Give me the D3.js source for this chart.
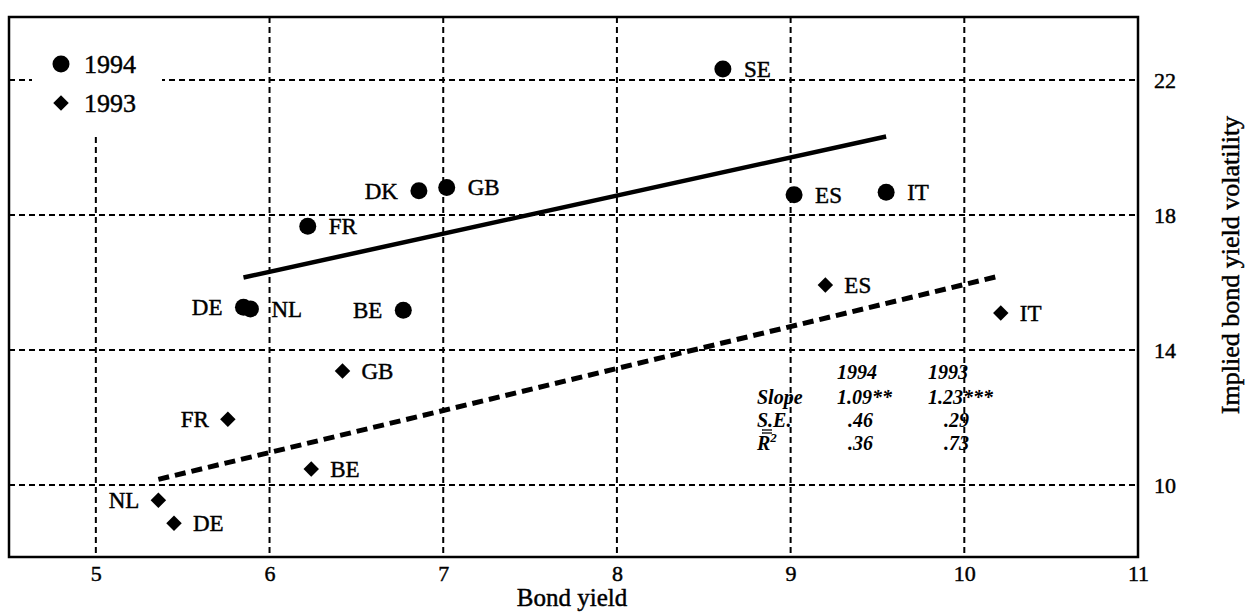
<!DOCTYPE html>
<html>
<head>
<meta charset="utf-8">
<script src="https://cdn.jsdelivr.net/npm/d3@7"></script>
<style>
  html, body { margin: 0; padding: 0; background: #fff; }
  svg text { font-family: "Liberation Serif", "Times New Roman", serif; fill: #000; }
</style>
</head>
<body>
<svg id="chart" width="1251" height="612"></svg>
<script>
// ---------------- data ----------------
const countries1994 = ["SE", "DK", "GB", "FR", "ES", "IT", "DE", "NL", "BE"];
const yield1994     = [8.61, 6.86, 7.02, 6.22, 9.02, 9.55, 5.85, 5.89, 6.77];
const vol1994       = [22.33, 18.72, 18.82, 17.67, 18.60, 18.68, 15.27, 15.22, 15.18];
const side1994      = ["right", "left", "right", "right", "right", "right", "left", "right", "left"];

const countries1993 = ["ES", "IT", "GB", "FR", "BE", "NL", "DE"];
const yield1993     = [9.20, 10.21, 6.42, 5.76, 6.24, 5.36, 5.45];
const vol1993       = [15.93, 15.10, 13.38, 11.95, 10.48, 9.55, 8.87];
const side1993      = ["right", "right", "right", "left", "right", "left", "right"];

const fit1994X = [5.85, 9.55];
const fit1994Y = [16.15, 20.33];
const fit1993X = [5.36, 10.19];
const fit1993Y = [10.17, 16.18];

const xTicks = [5, 6, 7, 8, 9, 10, 11];
const yTicks = [10, 14, 18, 22];
const xTitle = "Bond yield";
const yTitle = "Implied bond yield volatility";
const legendLabels = ["1994", "1993"];

const statHeaders = ["1994", "1993"];
const statRows = ["Slope", "S.E.", "R"];
const stat1994 = ["1.09**", ".46", ".36"];
const stat1993 = ["1.23***", ".29", ".73"];

// ---------------- layout ----------------
const svg = d3.select("#chart");
const L = 9, R = 1138, T = 17, B = 557;
const x = d3.scaleLinear().domain([4.5, 11]).range([L, R]);
const y = d3.scaleLinear().domain([7.87, 23.87]).range([B, T]);

svg.append("rect").attr("width", 1251).attr("height", 612).attr("fill", "#fff");

const grid = svg.append("g").attr("stroke", "#000").attr("stroke-width", 2)
  .attr("stroke-dasharray", "6,4").attr("fill", "none");
grid.selectAll("line.v").data(xTicks.filter(d => d < 11)).join("line")
  .attr("class", "v")
  .attr("x1", d => x(d)).attr("x2", d => x(d))
  .attr("y1", T).attr("y2", B);
grid.selectAll("line.h").data(yTicks).join("line")
  .attr("class", "h")
  .attr("x1", L).attr("x2", R)
  .attr("y1", d => y(d)).attr("y2", d => y(d));

// legend box (masks the grid)
svg.append("rect").attr("x", 32).attr("y", T + 1).attr("width", 130).attr("height", 119).attr("fill", "#fff");

// frame
svg.append("rect").attr("x", L).attr("y", T).attr("width", R - L).attr("height", B - T)
  .attr("fill", "none").attr("stroke", "#000").attr("stroke-width", 2.5);

const ink = sel => sel.attr("stroke", "#000").attr("stroke-width", 0.45);

// x-axis (labels only)
const xAxis = d3.axisBottom(x).tickValues(xTicks).tickSize(0).tickPadding(8).tickFormat(d3.format("d"));
const gx = svg.append("g").attr("transform", `translate(0,${B})`).call(xAxis);
gx.select(".domain").remove();
gx.selectAll("text").attr("font-size", 22).attr("font-family", "Liberation Serif").call(ink);

// right y-axis (labels only)
const yAxis = d3.axisRight(y).tickValues(yTicks).tickSize(0).tickPadding(16).tickFormat(d3.format("d"));
const gy = svg.append("g").attr("transform", `translate(${R},0)`).call(yAxis);
gy.select(".domain").remove();
gy.selectAll("text").attr("font-size", 22).attr("font-family", "Liberation Serif").call(ink);

svg.append("text").attr("x", 572).attr("y", 606)
  .attr("text-anchor", "middle").attr("font-size", 25).text(xTitle).call(ink);
svg.append("text").attr("transform", "translate(1239,265) rotate(-90)")
  .attr("text-anchor", "middle").attr("font-size", 26).text(yTitle).call(ink);

// regression lines
const line = d3.line().x(d => x(d[0])).y(d => y(d[1]));
svg.append("path").datum(d3.zip(fit1994X, fit1994Y)).attr("d", line)
  .attr("fill", "none").attr("stroke", "#000").attr("stroke-width", 4.5);
svg.append("path").datum(d3.zip(fit1993X, fit1993Y)).attr("d", line)
  .attr("fill", "none").attr("stroke", "#000").attr("stroke-width", 5)
  .attr("stroke-dasharray", "11,6");

// points
const pts94 = countries1994.map((c, i) => ({ c, x: yield1994[i], y: vol1994[i], side: side1994[i] }));
const pts93 = countries1993.map((c, i) => ({ c, x: yield1993[i], y: vol1993[i], side: side1993[i] }));

svg.append("g").selectAll("circle").data(pts94).join("circle")
  .attr("cx", d => x(d.x)).attr("cy", d => y(d.y)).attr("r", 8.5).attr("fill", "#000");
const diamondType = {
  draw(ctx, size) {
    const r = Math.sqrt(size) / 2;
    ctx.moveTo(0, -r); ctx.lineTo(r, 0); ctx.lineTo(0, r); ctx.lineTo(-r, 0); ctx.closePath();
  }
};
const diamond = d3.symbol().type(diamondType).size(240);
svg.append("g").selectAll("path").data(pts93).join("path")
  .attr("d", diamond).attr("transform", d => `translate(${x(d.x)},${y(d.y)})`).attr("fill", "#000");

function labels(data, off) {
  svg.append("g").selectAll("text").data(data).join("text")
    .attr("x", d => x(d.x) + (d.side === "right" ? off : -off))
    .attr("y", d => y(d.y) + 8)
    .attr("text-anchor", d => d.side === "right" ? "start" : "end")
    .attr("font-size", 23)
    .text(d => d.c)
    .call(ink);
}
labels(pts94, 21);
labels(pts93, 19);

// legend
svg.append("circle").attr("cx", 61).attr("cy", 64).attr("r", 8.5).attr("fill", "#000");
svg.append("path").attr("d", diamond).attr("transform", "translate(61,103)").attr("fill", "#000");
svg.append("text").attr("x", 84).attr("y", 73).attr("font-size", 26).text(legendLabels[0]).call(ink);
svg.append("text").attr("x", 84).attr("y", 112).attr("font-size", 26).text(legendLabels[1]).call(ink);

// stats table
const tbl = svg.append("g").attr("font-size", 20).attr("font-style", "italic").attr("font-weight", "bold");
tbl.append("text").attr("x", 837).attr("y", 379).text(statHeaders[0]);
tbl.append("text").attr("x", 928).attr("y", 379).text(statHeaders[1]);
statRows.forEach((r, i) => {
  const yy = 404 + i * 23;
  const t = tbl.append("text").attr("x", 757).attr("y", yy).text(r);
  if (i === 2) {
    t.append("tspan").attr("font-size", 13).attr("dy", -8).text("2");
    tbl.append("line").attr("x1", 762).attr("x2", 772).attr("y1", yy - 17).attr("y2", yy - 17)
      .attr("stroke", "#000").attr("stroke-width", 1.3);
    tbl.append("line").attr("x1", 762).attr("x2", 772).attr("y1", yy - 20).attr("y2", yy - 20)
      .attr("stroke", "#000").attr("stroke-width", 1.3);
  }
  tbl.append("text").attr("x", i === 0 ? 837 : 848).attr("y", yy).text(stat1994[i]);
  tbl.append("text").attr("x", i === 0 ? 928 : 944).attr("y", yy).text(stat1993[i]);
});
</script>
</body>
</html>
